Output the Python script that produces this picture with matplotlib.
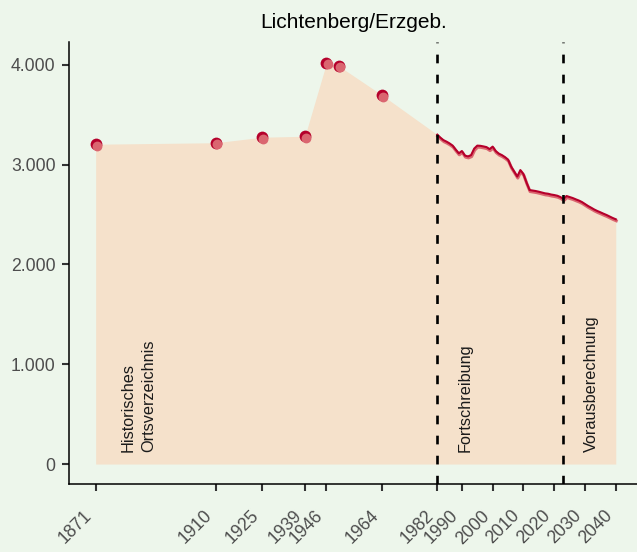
import matplotlib
matplotlib.use("Agg")
import matplotlib.pyplot as plt
import matplotlib.transforms as mtransforms

plt.rcParams['font.family'] = ['Liberation Sans', 'DejaVu Sans']

# Historisches Ortsverzeichnis (Punkte)
hist_years = [1871, 1910, 1925, 1939, 1946, 1950, 1964]
hist_values = [3204, 3219, 3274, 3284, 4018, 3988, 3697]

# Fortschreibung + Vorausberechnung (Linie)
line_years = list(range(1982, 2041))
line_values = [3300, 3270, 3245, 3230, 3212, 3190, 3150, 3113, 3136, 3090,
               3082, 3095, 3160, 3190, 3188, 3182, 3175, 3155, 3180, 3135,
               3110, 3095, 3075, 3050, 2980, 2930, 2880, 2945, 2905, 2820,
               2745, 2740, 2735, 2728, 2720, 2712, 2708, 2700, 2695, 2688,
               2675, 2655, 2685, 2675, 2665, 2652, 2640, 2625, 2605, 2585,
               2568, 2550, 2535, 2522, 2508, 2495, 2480, 2465, 2452]

# Trennlinien der Datenquellen
breaks = [1982, 2023]
xticks = [1871, 1910, 1925, 1939, 1946, 1964, 1982, 1990, 2000, 2010, 2020, 2030, 2040]
yticks = [0, 1000, 2000, 3000, 4000]
ytick_labels = ['0', '1.000', '2.000', '3.000', '4.000']

bg = '#EDF6EB'
fill_col = '#F5E1CB'
dark_red = '#B5002B'
light_red = '#DA6670'

fig = plt.figure(figsize=(6.37, 5.52), dpi=100, facecolor=bg)
ax = fig.add_axes([0.1091, 0.1239, 0.8909, 0.80])
ax.set_facecolor(bg)

# Fläche
all_x = hist_years + line_years
all_y = hist_values + line_values
ax.fill_between(all_x, all_y, 0, color=fill_col, lw=0, zorder=1)

# Linie mit hellem Schatten
shadow = mtransforms.offset_copy(ax.transData, fig=fig, x=0.5, y=-1.5, units='dots')
ax.plot(line_years, line_values, color=light_red, lw=2.2, transform=shadow, zorder=3)
ax.plot(line_years, line_values, color=dark_red, lw=1.5, zorder=4)

# Punkte
shadow_pt = mtransforms.offset_copy(ax.transData, fig=fig, x=1.5, y=-1.5, units='dots')
ax.scatter(hist_years, hist_values, s=72, color=dark_red, lw=0, zorder=5)
ax.scatter(hist_years, hist_values, s=50, color=light_red, lw=0, zorder=6,
           transform=shadow_pt)

for b in breaks:
    ax.axvline(b, color='black', lw=1.9, linestyle=(0, (3.3, 4.3)), zorder=7)

ax.text(1885, 120, 'Historisches\nOrtsverzeichnis', rotation=90, ha='center', va='bottom',
        fontsize=11.7, color='#1A1A1A', multialignment='left', linespacing=1.45)
ax.text(1991, 120, 'Fortschreibung', rotation=90, ha='center', va='bottom',
        fontsize=11.7, color='#1A1A1A')
ax.text(2032.2, 120, 'Vorausberechnung', rotation=90, ha='center', va='bottom',
        fontsize=11.7, color='#1A1A1A')

ax.set_xlim(1862.5, 2046.9)
ax.set_ylim(-196, 4228)
ax.set_xticks(xticks)
ax.set_xticklabels([str(x) for x in xticks], rotation=45, ha='right', va='top')
ax.set_yticks(yticks)
ax.set_yticklabels(ytick_labels)
ax.tick_params(axis='both', length=5, width=1.5, color='#333333',
               labelcolor='#4D4D4D', labelsize=12.7)
ax.tick_params(axis='x', pad=12)
ax.tick_params(axis='y', pad=5)

for side in ['top', 'right']:
    ax.spines[side].set_visible(False)
for side in ['left', 'bottom']:
    ax.spines[side].set_linewidth(1.1)
    ax.spines[side].set_color('black')

ax.set_title('Lichtenberg/Erzgeb.', fontsize=15, color='black', pad=10)

fig.savefig('out.png', dpi=100, facecolor=bg)
